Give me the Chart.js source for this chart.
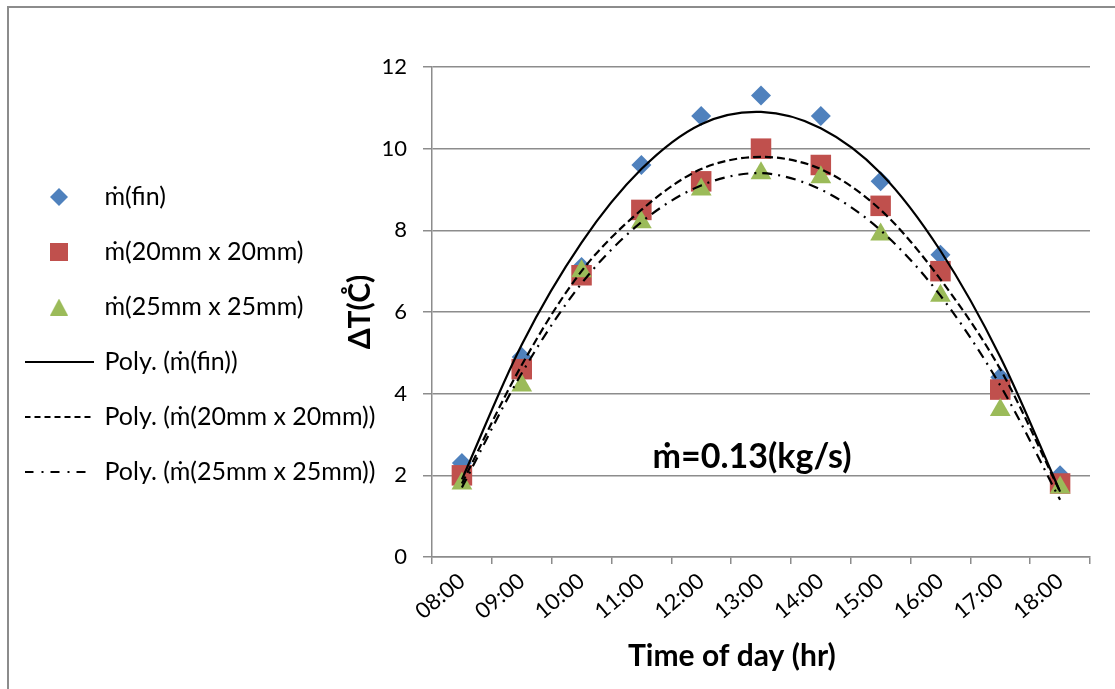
<!DOCTYPE html>
<html lang="en">
<head>
<meta charset="UTF-8">
<title>Temperature rise over the day</title>
<script src="https://cdn.jsdelivr.net/npm/chart.js"></script>
<style>
    body {
        margin: 0;
        background: #fff;
    }
    #wrap {
        position: relative;
        width: 1115px;
        height: 689px;
    }
    /* thin gray frame of the chart area, like the spreadsheet export */
    #frame {
        position: absolute;
        left: 7px;
        top: 6px;
        right: 0;
        bottom: 0;
        border-left: 2px solid #8c8c8c;
        border-top: 2px solid #8c8c8c;
    }
    canvas {
        position: absolute;
        left: 0;
        top: 0;
    }
</style>
</head>
<body>
<div id="wrap">
    <div id="frame"></div>
    <canvas id="deltaChart" width="1115" height="689"></canvas>
</div>

<script>
    // categories on the x axis
    const hours = ['08:00', '09:00', '10:00', '11:00', '12:00', '13:00',
                   '14:00', '15:00', '16:00', '17:00', '18:00'];

    const finValues   = [2.3, 4.9, 7.1, 9.6, 10.8, 11.3, 10.8, 9.2, 7.4, 4.4, 2.0];
    const sq20Values  = [2.0, 4.6, 6.9, 8.5, 9.2, 10.0, 9.6, 8.6, 7.0, 4.1, 1.8];
    const sq25Values  = [1.8, 4.2, 7.0, 8.2, 9.0, 9.4, 9.3, 7.9, 6.4, 3.6, 1.7];

    // polynomial trend lines at each hour
    const finTrend  = [1.9, 5.2, 7.7, 9.5, 10.6, 10.9, 10.5, 9.4, 7.5, 4.9, 1.6];
    const sq20Trend = [1.8, 4.7, 7.0, 8.5, 9.5, 9.8, 9.5, 8.5, 6.8, 4.6, 1.6];
    const sq25Trend = [1.7, 4.5, 6.7, 8.2, 9.1, 9.4, 9.0, 8.0, 6.4, 4.2, 1.4];

    // y axis range
    const yMin = 0;
    const yMax = 12;
    const yStep = 2;

    // texts
    const seriesNames = ['ṁ(fin)', 'ṁ(20mm x 20mm)', 'ṁ(25mm x 25mm)',
                         'Poly. (ṁ(fin))', 'Poly. (ṁ(20mm x 20mm))', 'Poly. (ṁ(25mm x 25mm))'];
    const noteText = 'ṁ=0.13(kg/s)';
    // trailing spaces nudge the centred title a bit to the left, as in the original
    const xTitle = 'Time of day (hr)        ';
    const yTitle = 'ΔT(C\u030A)';

    const BLUE = '#4f81bd';
    const RED = '#c0504d';
    const GREEN = '#9bbb59';
    const GRID = '#8c8c8c';
    const FONT = 'Lato';

    // turns a value list into {x, y} points, x being the category number
    function toPoints(values) {
        return values.map((v, i) => ({ x: i + 1, y: v }));
    }

    // small canvases used as legend symbols
    function makeIcon(w, h, draw) {
        const c = document.createElement('canvas');
        c.width = w;
        c.height = h;
        draw(c.getContext('2d'), w, h);
        return c;
    }

    function lineIcon(dash) {
        return makeIcon(69, 4, (g, w) => {
            g.strokeStyle = '#000';
            g.lineWidth = 2;
            g.setLineDash(dash);
            g.beginPath();
            g.moveTo(0, 2);
            g.lineTo(w, 2);
            g.stroke();
        });
    }

    const legendIcons = [
        makeIcon(18, 18, g => {
            g.fillStyle = BLUE;
            g.beginPath();
            g.moveTo(9, 0); g.lineTo(18, 9); g.lineTo(9, 18); g.lineTo(0, 9);
            g.closePath();
            g.fill();
        }),
        makeIcon(18, 18, g => {
            g.fillStyle = RED;
            g.fillRect(0, 0, 18, 18);
        }),
        makeIcon(18, 17, g => {
            g.fillStyle = GREEN;
            g.beginPath();
            g.moveTo(9, 0); g.lineTo(18, 17); g.lineTo(0, 17);
            g.closePath();
            g.fill();
        }),
        lineIcon([]),
        lineIcon([6, 4]),
        lineIcon([9, 8, 2, 7])
    ];

    // the flow-rate note inside the plot
    const noteLabel = {
        id: 'noteLabel',
        afterDatasetsDraw(chart) {
            const { ctx, scales } = chart;
            const px = scales.x.getPixelForValue(5.85);
            const py = scales.y.getPixelForValue(2.45);
            ctx.save();
            ctx.font = 'bold 34px ' + FONT;
            ctx.fillStyle = '#000';
            ctx.textAlign = 'center';
            ctx.textBaseline = 'middle';
            ctx.fillText(noteText, px, py);
            ctx.restore();
        }
    };

    function markerSet(label, values, color, style, radius, order) {
        return {
            type: 'line',
            label: label,
            data: toPoints(values),
            xAxisID: 'x',
            showLine: false,
            pointStyle: style,
            pointRadius: radius,
            pointHoverRadius: radius,
            pointBackgroundColor: color,
            pointBorderColor: color,
            pointBorderWidth: 0,
            order: order
        };
    }

    function trendSet(label, values, dash, order) {
        return {
            type: 'line',
            label: label,
            data: toPoints(values),
            xAxisID: 'x',
            borderColor: '#000',
            borderWidth: 2.2,
            borderDash: dash,
            pointRadius: 0,
            pointHoverRadius: 0,
            tension: 0.33,
            fill: false,
            order: order
        };
    }

    const ctx = document.getElementById('deltaChart').getContext('2d');

    new Chart(ctx, {
        type: 'line',
        data: {
            labels: hours,
            datasets: [
                markerSet(seriesNames[0], finValues, BLUE, 'rectRot', 10, 6),
                markerSet(seriesNames[1], sq20Values, RED, 'rect', 14.5, 5),
                markerSet(seriesNames[2], sq25Values, GREEN, 'triangle', 12, 4),
                trendSet(seriesNames[3], finTrend, [], 3),
                trendSet(seriesNames[4], sq20Trend, [8, 4], 2),
                trendSet(seriesNames[5], sq25Trend, [10, 6, 2, 6], 1)
            ]
        },
        options: {
            responsive: false,
            animation: false,
            layout: {
                padding: { left: -4, right: 25, top: 0, bottom: 20 }
            },
            plugins: {
                tooltip: { enabled: false },
                // empty title only used to keep space above the plot
                title: {
                    display: true,
                    text: '',
                    font: { size: 10 },
                    padding: { top: 55, bottom: 0 }
                },
                legend: {
                    position: 'left',
                    align: 'center',
                    maxWidth: 381,
                    labels: {
                        usePointStyle: true,
                        pointStyleWidth: 66,
                        padding: 30,
                        color: '#000',
                        font: { family: FONT, size: 25 },
                        generateLabels: chart => chart.data.datasets.map((ds, i) => ({
                            text: ds.label,
                            pointStyle: legendIcons[i],
                            datasetIndex: i,
                            fillStyle: 'transparent',
                            strokeStyle: 'transparent',
                            lineWidth: 0,
                            hidden: false,
                            fontColor: '#000'
                        }))
                    }
                }
            },
            scales: {
                x: {
                    type: 'linear',
                    min: 0.5,
                    max: 11.5,
                    display: false
                },
                xc: {
                    type: 'category',
                    position: 'bottom',
                    offset: true,
                    grid: {
                        offset: true,
                        drawOnChartArea: false,
                        drawTicks: true,
                        tickLength: 7,
                        color: GRID,
                        lineWidth: 1.5
                    },
                    border: { display: true, color: GRID, width: 1.5 },
                    ticks: {
                        color: '#000',
                        font: { family: FONT, size: 22 },
                        minRotation: 40,
                        maxRotation: 40,
                        padding: 4
                    },
                    title: {
                        display: true,
                        text: xTitle,
                        color: '#000',
                        font: { family: FONT, size: 30, weight: 'bold', lineHeight: 1 },
                        padding: { top: 0, bottom: -2 }
                    },
                    afterFit: scale => { scale.height = 112; }
                },
                y: {
                    min: yMin,
                    max: yMax,
                    ticks: {
                        stepSize: yStep,
                        color: '#000',
                        font: { family: FONT, size: 22 },
                        padding: 16
                    },
                    grid: {
                        color: GRID,
                        lineWidth: 1.5,
                        tickLength: 9
                    },
                    border: { display: true, color: GRID, width: 1.5 },
                    // the axis box is kept narrow so the long legend labels fit;
                    // a negative padding moves the title back to the left
                    title: {
                        display: true,
                        text: yTitle,
                        color: '#000',
                        font: { family: FONT, size: 30, weight: 'bold' },
                        padding: { top: -35, bottom: 0 }
                    },
                    afterFit: scale => { scale.width = 55; }
                }
            }
        },
        plugins: [noteLabel]
    });
</script>
</body>
</html>
